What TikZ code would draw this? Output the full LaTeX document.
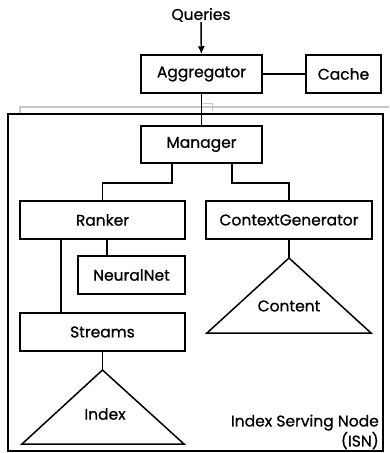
\documentclass[tikz,border=0pt]{standalone}
\usepackage{fontspec}
\usetikzlibrary{arrows.meta}
\setmainfont{Poppins}
\newfontfamily\medfont{Poppins}[FakeBold=0.8]
\begin{document}
\begin{tikzpicture}[x=1pt,y=-1pt]
	\tikzstyle{box}=[draw=black,line width=1.5pt,minimum height=38pt,inner sep=0pt,font=\fontsize{15.5}{17}\medfont]
	\tikzstyle{lbl}=[inner sep=0pt,font=\fontsize{15.5}{17}\medfont]
	\tikzstyle{link}=[draw=black,line width=1.5pt]
	\useasboundingbox (0,0) rectangle (389,453);

	% shadow of the ISN frame
	\draw[black!22,line width=1.2pt] (20,114) -- (20,107) -- (389,107);
	\draw[black!22,line width=1pt] (203,103) -- (212,103) -- (212,111);
	% ISN frame
	\draw[line width=2pt] (8,114) rectangle (383,451);

	\node[lbl] (queries) at (201,15) {Queries};
	\node[box,minimum width=121pt] (agg) at (201.5,74) {Aggregator};
	\node[box,minimum width=75pt] (cache) at (343.5,74) {Cache};
	\node[box,minimum width=121pt,minimum height=37pt] (mgr) at (201.5,144.5) {Manager};
	\node[box,minimum width=165pt] (ranker) at (102.5,220) {Ranker};
	\node[box,minimum width=166pt] (cg) at (289,220) {ContextGenerator};
	\node[box,minimum width=107pt] (nn) at (131.5,275) {NeuralNet};
	\node[box,minimum width=165pt] (streams) at (102.5,332) {Streams};

	% triangles
	\draw[line width=1.5pt] (102.5,370) coordinate (idxtop) -- (184,444) -- (22,444) -- cycle;
	\draw[line width=1.5pt] (289,258) coordinate (cnttop) -- (371,333) -- (207,333) -- cycle;
	\node[lbl] (index) at (105,414) {Index};
	\node[lbl] (content) at (289,306) {Content};
	\node[lbl,anchor=east,align=right,font=\fontsize{15.5}{20}\medfont] (isn) at (379,432) {Index Serving Node\\(ISN)};

	\draw[-{Latex[length=8pt,width=7pt]},line width=1.5pt] (queries) -- (agg);
	\path[link]
	(agg) edge (cache)
	(agg) edge (mgr)
	(streams) edge (idxtop)
	(cg) edge (cnttop)
	;
	\draw[link] ([xshift=-29.5pt]mgr.south) -- ++(0,19) -| (ranker.north);
	\draw[link] ([xshift=30.5pt]mgr.south) -- ++(0,19) -| (cg.north);
	\draw[link] ([xshift=-41.5pt]ranker.south) -- ([xshift=-41.5pt]streams.north);
	\draw[link] ([xshift=4.5pt]ranker.south) -- ([xshift=4.5pt]ranker.south |- nn.north);
\end{tikzpicture}
\end{document}
